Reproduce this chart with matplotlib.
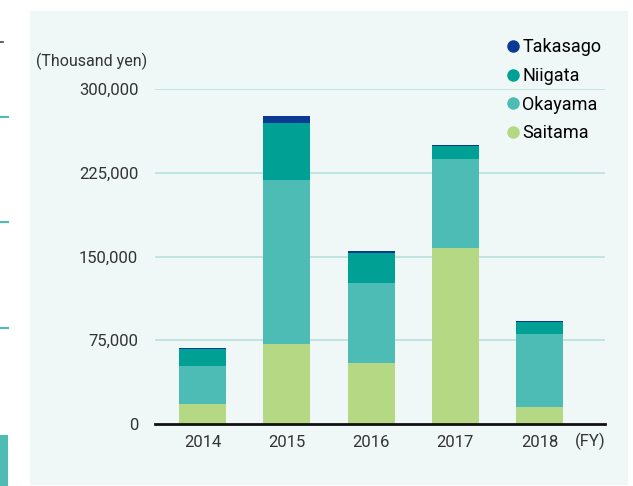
import numpy as np
import matplotlib
matplotlib.use("Agg")
import matplotlib.pyplot as plt
from matplotlib.patches import Rectangle
from matplotlib.lines import Line2D

plt.rcParams['font.family'] = ['Roboto', 'DejaVu Sans']

# data (thousand yen)
years = ['2014', '2015', '2016', '2017', '2018']
saitama = [18000, 71600, 54600, 157600, 15200]
okayama = [34000, 147000, 71700, 79700, 65400]
niigata = [15000, 51000, 26800, 11700, 11000]
takasago = [1500, 6500, 1800, 800, 600]
y_ticks = [0, 75000, 150000, 225000, 300000]

series = [('Saitama', saitama, '#b5d884'),
          ('Okayama', okayama, '#4dbcb5'),
          ('Niigata', niigata, '#00a095'),
          ('Takasago', takasago, '#0a3a94')]

W, H = 633, 486
fig = plt.figure(figsize=(W / 100, H / 100), dpi=100)

# light panel behind the chart
fig.add_artist(Rectangle((30 / W, 1 - 485 / H), 598 / W, 474 / H,
                         transform=fig.transFigure, facecolor='#eff8f7',
                         edgecolor='none', zorder=0))

# fragments of the neighbouring chart at the left edge
for yy in [117, 222, 328]:
    fig.add_artist(Line2D([0, 8 / W], [1 - yy / H, 1 - yy / H],
                          transform=fig.transFigure, color='#4dbcb5', lw=1.5))
fig.add_artist(Rectangle((0, 0), 8 / W, 51 / H, transform=fig.transFigure,
                         facecolor='#4dbcb5', edgecolor='none'))
fig.add_artist(Line2D([0, 3 / W], [1 - 42 / H, 1 - 42 / H],
                      transform=fig.transFigure, color='#444444', lw=1.2))

# axes: x 155..605 px, y 89..424 px
ax = fig.add_axes([155 / W, 1 - 424 / H, 450 / W, 335 / H])
ax.set_facecolor('none')

x = np.arange(len(years))
bottom = np.zeros(len(years))
for name, vals, col in series:
    ax.bar(x, vals, width=0.558, bottom=bottom, color=col, label=name, zorder=3)
    bottom += np.array(vals)

ax.set_xlim(-0.564, 4.777)
ax.set_ylim(0, 300000)
ax.set_yticks(y_ticks)
ax.set_yticklabels([f'{v:,}' for v in y_ticks])
ax.set_xticks(x)
ax.set_xticklabels(years)
ax.tick_params(axis='both', length=0, labelsize=12, labelcolor='#333333')
ax.tick_params(axis='y', pad=12)
ax.tick_params(axis='x', pad=8)
for s in ['top', 'right', 'left']:
    ax.spines[s].set_visible(False)
ax.spines['bottom'].set_linewidth(2)
ax.spines['bottom'].set_color('#111111')
ax.spines['bottom'].set_zorder(4)
for v in y_ticks[1:]:
    ax.axhline(v, color='#b7e1dc', lw=1.2, zorder=1)

fig.text(36 / W, 1 - 61 / H, '(Thousand yen)', fontsize=11.5, color='#333333',
         va='center', ha='left')
fig.text(605 / W, 1 - 441 / H, '(FY)', fontsize=12, color='#333333',
         va='center', ha='right')

handles = [Line2D([], [], marker='o', linestyle='none', markersize=9,
                  markerfacecolor=c, markeredgecolor='none') for _, _, c in series[::-1]]
labels = [n for n, _, _ in series[::-1]]
fig.legend(handles, labels, loc='upper left', bbox_to_anchor=(508 / W, 1 - 38 / H),
           frameon=False, fontsize=13, handlelength=0.6, handletextpad=0.2,
           labelspacing=0.6, borderpad=0, borderaxespad=0)

fig.savefig('out.png', dpi=100, facecolor='white')
